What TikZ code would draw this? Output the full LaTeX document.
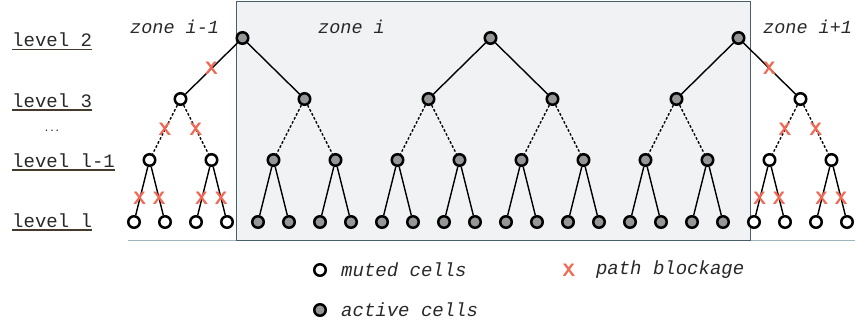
\documentclass[tikz,border=0pt]{standalone}
\usepackage{fontspec}
\setmonofont{Liberation Mono}
\usetikzlibrary{positioning}
\definecolor{ZoneFill}{RGB}{241,242,243}
\definecolor{ZoneLine}{RGB}{70,95,105}
\definecolor{BaseLine}{RGB}{160,180,190}
\definecolor{BlockRed}{RGB}{240,105,85}
\definecolor{CellGray}{RGB}{150,150,150}
\definecolor{LabelInk}{RGB}{40,40,40}

\begin{document}
\begin{tikzpicture}[x=1pt, y=-1pt,
  cell/.style={circle, draw=black, line width=2.5pt, inner sep=0pt, minimum size=11.5pt},
  muted/.style={cell, fill=white},
  active/.style={cell, fill=CellGray},
  block/.style={text=BlockRed, font=\sffamily\bfseries\fontsize{18}{18}\selectfont, inner sep=0pt},
  lvl/.style={text=LabelInk, font=\ttfamily\fontsize{19}{19}\selectfont, anchor=base west, inner xsep=0pt, inner ysep=2.5pt},
  zonelabel/.style={text=LabelInk, font=\ttfamily\itshape\fontsize{18.5}{18.5}\selectfont, anchor=base west, inner sep=0pt},
  legtext/.style={text=LabelInk, font=\ttfamily\itshape\fontsize{19}{19}\selectfont, inner sep=0pt},
  link/.style={line width=1.4pt},
  softlink/.style={line width=1.4pt, dash pattern=on 2.5pt off 2pt},
  underl/.style={line width=1.6pt, draw=LabelInk!80!brown}]
\useasboundingbox (0,0) rectangle (855,327);

% zone i
\fill[ZoneFill] (236,1) rectangle (750,240);
\draw[BaseLine, line width=0.8pt] (128,240) -- (855,240);
\draw[ZoneLine, line width=1pt] (236,1) rectangle (750,240);

% level labels
\node[lvl] (lv2) at (12,46.5) {level 2};
\node[lvl] (lv3) at (12,107) {level 3};
\node[text=LabelInk, font=\ttfamily\bfseries\fontsize{9}{9}\selectfont] (lvdots) at (52,131) {...};
\node[lvl] (lvm) at (12,167) {level l-1};
\node[lvl] (lvl) at (12,227) {level l};
\foreach \n in {lv2,lv3,lvm,lvl}
  \draw[underl] (\n.south west) -- (\n.south east);

% zone labels
\node[zonelabel] (z0) at (130,33) {zone i-1};
\node[zonelabel] (z1) at (318,33) {zone i};
\node[zonelabel] (z2) at (763,33) {zone i+1};

% cells
\foreach \k in {0,...,23}{
  \ifnum\k<4 \def\st{muted}\else\ifnum\k>19 \def\st{muted}\else\def\st{active}\fi\fi
  \node[\st] (l-\k) at ({134+31*\k},222) {};
}
\foreach \k in {0,...,11}{
  \ifnum\k<2 \def\st{muted}\else\ifnum\k>9 \def\st{muted}\else\def\st{active}\fi\fi
  \node[\st] (m-\k) at ({149.5+62*\k},160) {};
}
\foreach \k in {0,...,5}{
  \ifnum\k<1 \def\st{muted}\else\ifnum\k>4 \def\st{muted}\else\def\st{active}\fi\fi
  \node[\st] (t-\k) at ({180.5+124*\k},99) {};
}
\foreach \k in {0,1,2}
  \node[active] (r-\k) at ({242.5+248*\k},38) {};

% links
\foreach \k in {0,...,23}{
  \pgfmathtruncatemacro{\p}{div(\k,2)}
  \draw[link] (m-\p) -- (l-\k);
}
\foreach \k in {0,...,11}{
  \pgfmathtruncatemacro{\p}{div(\k,2)}
  \draw[softlink] (t-\p) -- (m-\k);
}
\foreach \k in {0,...,5}{
  \pgfmathtruncatemacro{\p}{div(\k,2)}
  \draw[link] (r-\p) -- (t-\k);
}

% blocked paths
\path (r-0) -- node[block]{X} (t-0);
\path (r-2) -- node[block]{X} (t-5);
\foreach \k in {0,1,10,11}{
  \pgfmathtruncatemacro{\p}{div(\k,2)}
  \path (t-\p) -- node[block]{X} (m-\k);
}
\foreach \k in {0,1,2,3,20,21,22,23}{
  \pgfmathtruncatemacro{\p}{div(\k,2)}
  \path (m-\p) -- node[block, pos=0.66]{X} (l-\k);
}

% legend
\node[muted] (leg-muted) at (320,270) {};
\node[legtext, right=14pt of leg-muted] (leg-muted-txt) {muted cells};
\node[active] (leg-active) at (320,310) {};
\node[legtext, right=14pt of leg-active] (leg-active-txt) {active cells};
\node[block] (leg-block) at (569,270) {X};
\node[legtext, right=20pt of leg-block] (leg-block-txt) {path blockage};
\end{tikzpicture}
\end{document}
